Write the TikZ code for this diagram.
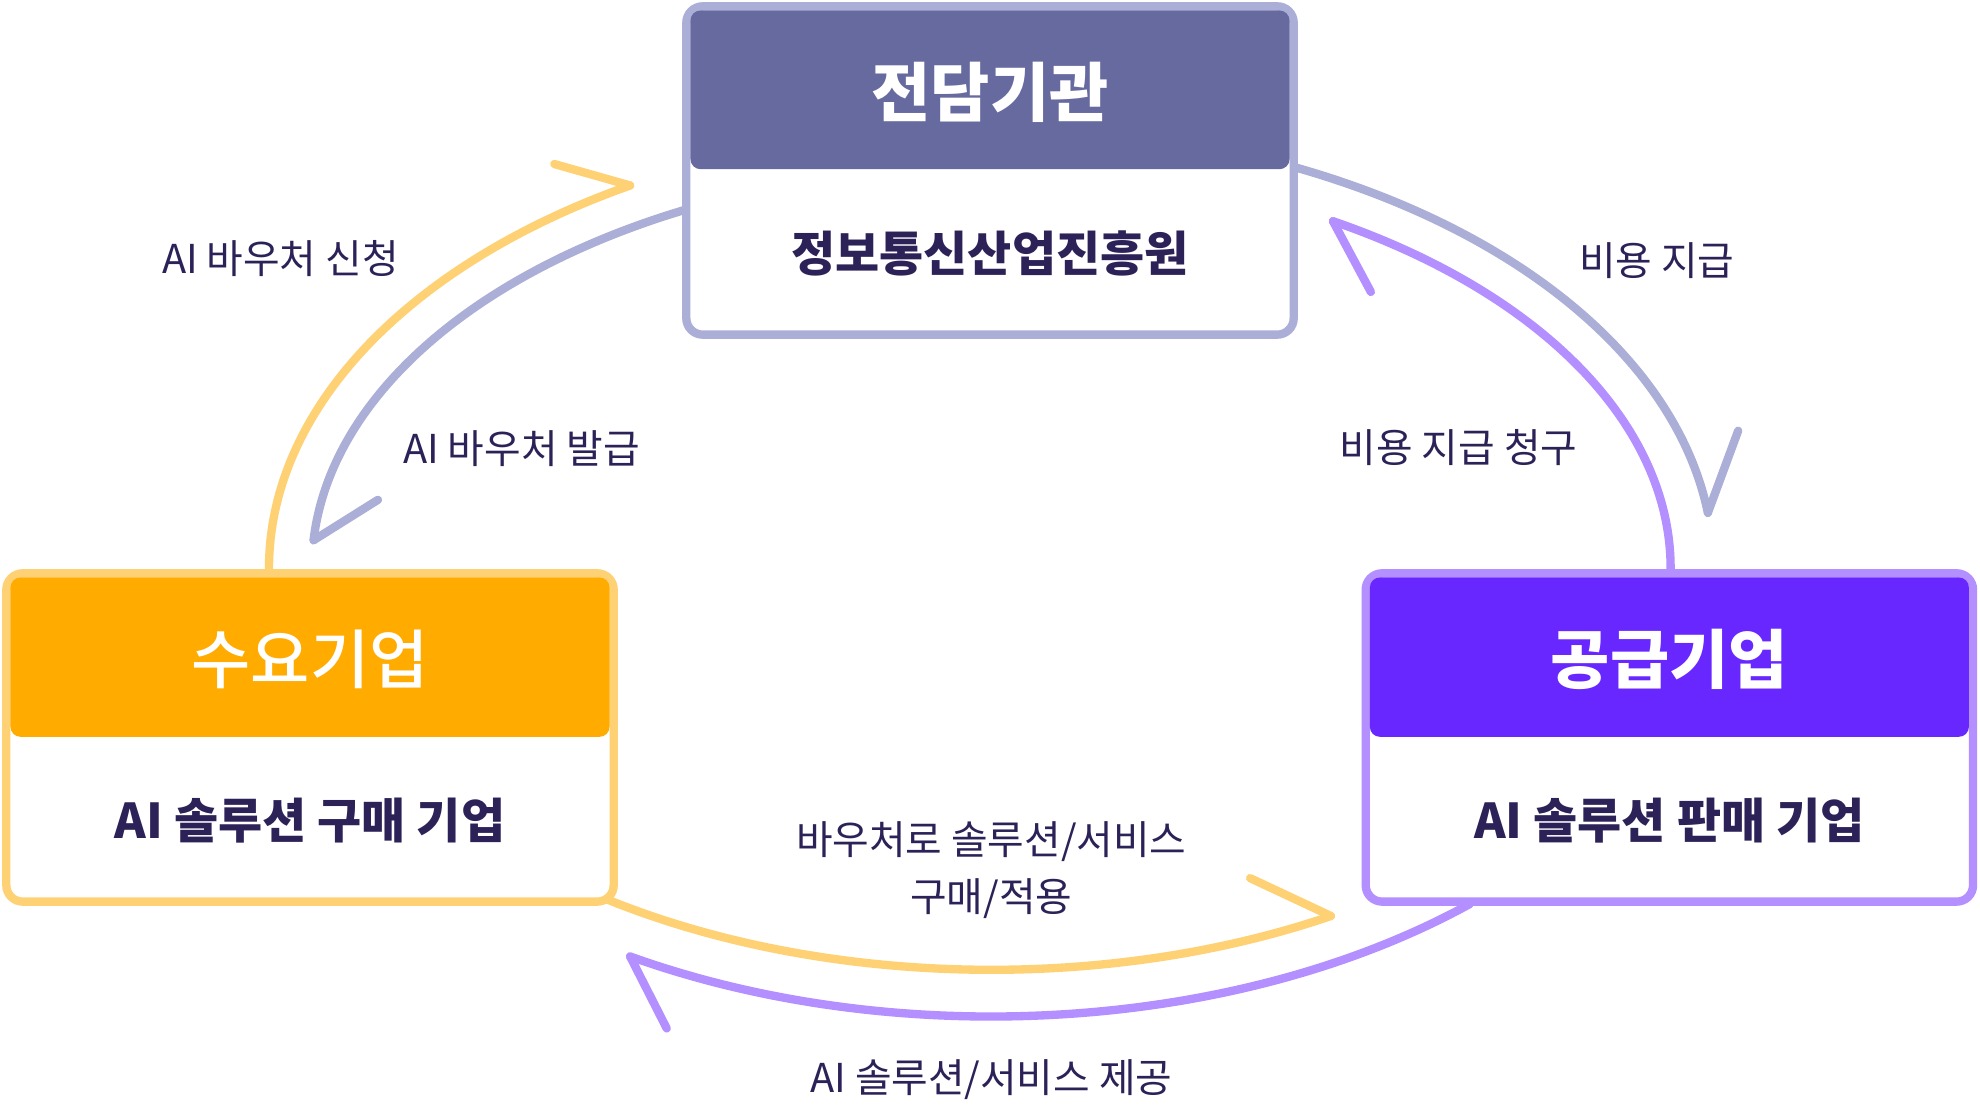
\documentclass[tikz,border=0pt]{standalone}
\usepackage{fontspec}
\setmainfont{Noto Sans CJK KR}
\newfontfamily\krmed{Noto Sans CJK KR Medium}
\usetikzlibrary{calc}
\definecolor{lav}{RGB}{171,174,214}
\definecolor{lavhead}{RGB}{102,106,159}
\definecolor{yel}{RGB}{255,209,117}
\definecolor{orahead}{RGB}{255,171,0}
\definecolor{pur}{RGB}{179,143,255}
\definecolor{purhead}{RGB}{105,39,255}
\definecolor{ink}{RGB}{45,34,88}
\begin{document}
\begin{tikzpicture}[x=1pt,y=1pt,
  card/.style={draw=#1, line width=6.6pt, fill=white, rounded corners=13pt,
    minimum width=481pt, minimum height=260pt, inner sep=0pt, outer sep=0pt},
  headtitle/.style={text=white, font=\fontsize{51}{55}\selectfont\bfseries, inner sep=0pt},
  headtitlemed/.style={text=white, font=\fontsize{51}{55}\selectfont\krmed, inner sep=0pt},
  subtitle/.style={text=ink, font=\fontsize{38}{42}\selectfont\bfseries, inner sep=0pt},
  lbl/.style={text=ink, font=\fontsize{31.5}{45.5}\selectfont, inner sep=0pt, align=center},
  flow/.style={draw=#1, line width=6.6pt, line cap=round, line join=round},
]
\useasboundingbox[fill=white] (0,0) rectangle (1568,-876);
\coordinate (O) at (785,-450);

% ---- connectors (arcs of two ellipses) ----
% AI voucher application (yellow, outer)
\draw[flow=yel] ($(O)+(180.6:572 and 350)$) arc[start angle=180.6, end angle=120, x radius=572, y radius=350] coordinate (a1);
\draw[flow=yel] (a1) -- ++(-60,17);
% AI voucher issue (lavender, inner)
\draw[flow=lav] ($(O)+(116:538 and 318)$) arc[start angle=116, end angle=176, x radius=538, y radius=318] coordinate (a2);
\draw[flow=lav] (a2) -- ++(51,32);
% payment (lavender, outer)
\draw[flow=lav] ($(O)+(65.5:572 and 350)$) arc[start angle=65.5, end angle=7.2, x radius=572, y radius=350] coordinate (a3);
\draw[flow=lav] (a3) -- ++(24,65);
% payment request (purple, inner)
\draw[flow=pur] ($(O)+(-1.5:538 and 318)$) arc[start angle=-1.5, end angle=59.8, x radius=538, y radius=318] coordinate (a4);
\draw[flow=pur] (a4) -- ++(30,-56);
% purchase (yellow, inner bottom)
\draw[flow=yel] ($(O)+(235:538 and 318)$) arc[start angle=235, end angle=300, x radius=538, y radius=318] coordinate (a5);
\draw[flow=yel] (a5) -- ++(-64,30);
% provide (purple, outer bottom)
\draw[flow=pur] ($(O)+(-48.5:572 and 355)$) arc[start angle=-48.5, end angle=-120, x radius=572, y radius=355] coordinate (a6);
\draw[flow=pur] (a6) -- ++(29,-57);

% ---- cards ----
\node[card=lav] (T) at (784,-135) {};
\fill[lavhead, rounded corners=8pt] ($(T.north west)+(3.3,-3.3)$) rectangle ($(T.north east)+(-3.3,-129)$);
\node[headtitle] (Tt) at ($(T.north)+(0,-68)$) {전담기관};
\node[subtitle] (Ts) at ($(T.north)+(0,-195.5)$) {정보통신산업진흥원};

\node[card=yel] (L) at (245.5,-584) {};
\fill[orahead, rounded corners=8pt] ($(L.north west)+(3.3,-3.3)$) rectangle ($(L.north east)+(-3.3,-129.5)$);
\node[headtitlemed] (Lt) at ($(L.north)+(0,-68)$) {수요기업};
\node[subtitle] (Ls) at ($(L.north)+(0,-196)$) {AI 솔루션 구매 기업};

\node[card=pur] (R) at (1322,-584) {};
\fill[purhead, rounded corners=8pt] ($(R.north west)+(3.3,-3.3)$) rectangle ($(R.north east)+(-3.3,-129.5)$);
\node[headtitle] (Rt) at ($(R.north)+(0,-68)$) {공급기업};
\node[subtitle] (Rs) at ($(R.north)+(0,-196)$) {AI 솔루션 판매 기업};

% ---- labels ----
\node[lbl] (l1) at (222,-205) {AI 바우처 신청};
\node[lbl] (l2) at (413,-355) {AI 바우처 발급};
\node[lbl] (l3) at (1312,-206) {비용 지급};
\node[lbl] (l4) at (1155,-354.5) {비용 지급 청구};
\node[lbl] (l5) at (785,-689) {바우처로 솔루션/서비스\\구매/적용};
\node[lbl] (l6) at (785,-855) {AI 솔루션/서비스 제공};
\end{tikzpicture}
\end{document}
